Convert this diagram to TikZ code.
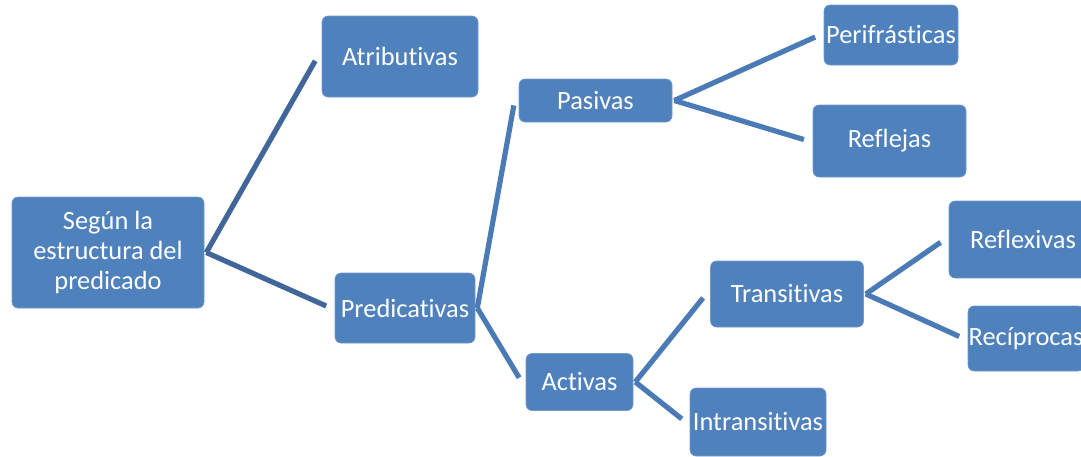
\documentclass[tikz,border=0pt]{standalone}
\usepackage{fontspec}
\setmainfont[Ligatures=NoCommon]{Carlito}
\definecolor{boxblue}{HTML}{4F81BD}
\definecolor{lineblue}{HTML}{4A7BB7}
\definecolor{rootline}{HTML}{41679A}

\begin{document}
\begin{tikzpicture}[x=0.5pt, y=-0.5pt]
        \tikzset{
            box/.style={
                rectangle, rounded corners=3pt,
                fill=boxblue, draw=boxblue!80!white, line width=0.3pt,
                text=white, align=center, inner sep=0pt,
                font=\fontsize{13.2}{15}\selectfont,
            },
            conn/.style={draw=lineblue, line width=2.6pt, shorten >=2.5pt},
            root conn/.style={conn, draw=rootline},
        }
        \useasboundingbox (0,0) rectangle (1081,456);
        \clip (0,0) rectangle (1081,456);

        % first level
        \node[box, minimum width=96pt, minimum height=55.5pt] (root) at (108,252.5)
            {Según la\\estructura del\\predicado};

        % name/x/y/width/height/text
        \foreach \n/\x/\y/\w/\h/\t in {
            attr/400/56.5/156/81/Atributivas,
            pred/405/308/140/70/Predicativas,
            pas/595.5/100.5/153/43/Pasivas,
            act/579.5/382/107/57/Activas,
            peri/891/35/134/60/Perifrásticas,
            refl/889.5/141/153/72/Reflejas,
            trans/787/294/153/66/Transitivas,
            intr/758/422/136/68/Intransitivas,
            rflx/1023/239.5/148/77/Reflexivas,
            reci/1026/338.5/116/65/Recíprocas} {
            \node[box, minimum width=\w*0.5pt, minimum height=\h*0.5pt] (\n) at (\x,\y) {\t};
        }

        % connectors
        \foreach \a/\b in {root/attr, root/pred} {
            \draw[root conn] ([xshift=1pt]\a.east) -- ([xshift=-2pt]\b.west);
        }
        \foreach \a/\b in {pred/pas, pred/act, pas/peri, pas/refl,
                           act/trans, act/intr, trans/rflx, trans/reci} {
            \draw[conn] ([xshift=1pt]\a.east) -- ([xshift=-2pt]\b.west);
        }
    \end{tikzpicture}
\end{document}
